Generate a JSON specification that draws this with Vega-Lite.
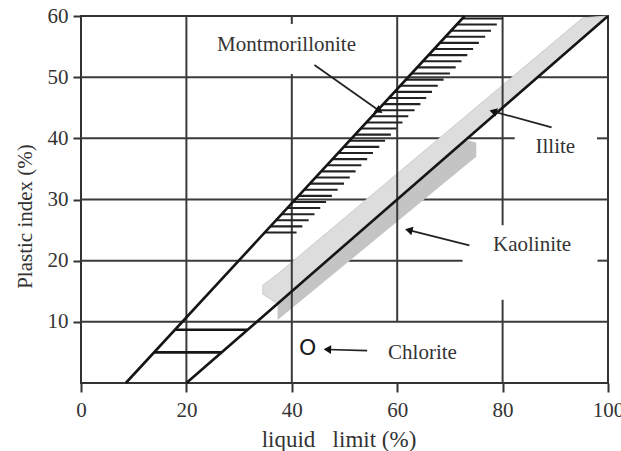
{
  "$schema": "https://vega.github.io/schema/vega-lite/v6.json",
  "width": 527,
  "height": 367,
  "autosize": {"type": "none"},
  "padding": {"left": 81, "top": 16, "right": 13, "bottom": 68},
  "config": {"view": {"stroke": "#333", "strokeWidth": 2}, "font": "Liberation Serif"},
  "datasets": {
    "hgrid": [
      {"x": 0, "x2": 100, "y": 10, "y2": 10},
      {"x": 0, "x2": 72.4, "y": 20, "y2": 20},
      {"x": 98, "x2": 100, "y": 20, "y2": 20},
      {"x": 0, "x2": 100, "y": 30, "y2": 30},
      {"x": 0, "x2": 82.3, "y": 40, "y2": 40},
      {"x": 97.9, "x2": 100, "y": 40, "y2": 40},
      {"x": 0, "x2": 100, "y": 50, "y2": 50}
    ],
    "vgrid": [
      {"x": 20, "x2": 20, "y": 0, "y2": 60},
      {"x": 40, "x2": 40, "y": 0, "y2": 50.5},
      {"x": 40, "x2": 40, "y": 58.7, "y2": 60},
      {"x": 60, "x2": 60, "y": 10, "y2": 60},
      {"x": 80, "x2": 80, "y": 25.8, "y2": 60},
      {"x": 80, "x2": 80, "y": 0, "y2": 13.6}
    ],
    "kaolinite": [
      {"x": 37.3, "y": 13.0, "y2": 10.3},
      {"x": 73.0, "y": 39.75, "y2": 35.6},
      {"x": 75.0, "y": 39.3, "y2": 37.0}
    ],
    "illite": [
      {"x": 34.5, "y": 16.0, "y2": 14.5},
      {"x": 37.3, "y": 17.8, "y2": 13.0},
      {"x": 95.2, "y": 59.7, "y2": 56.4},
      {"x": 100, "y": 60, "y2": 60}
    ],
    "lines": [
      {"x": 8.5, "y": 0, "x2": 72.8, "y2": 60},
      {"x": 20, "y": 0, "x2": 100, "y2": 60},
      {"x": 17.8, "y": 8.7, "x2": 31.6, "y2": 8.7},
      {"x": 13.9, "y": 5.0, "x2": 26.7, "y2": 5.0}
    ],
    "hatch": [
      {"y": 24.6, "x": 34.9, "x2": 40.9},
      {"y": 25.6, "x": 35.9, "x2": 42.0},
      {"y": 26.6, "x": 37.0, "x2": 43.2},
      {"y": 27.6, "x": 38.1, "x2": 44.3},
      {"y": 28.6, "x": 39.2, "x2": 45.4},
      {"y": 29.6, "x": 40.2, "x2": 46.5},
      {"y": 30.6, "x": 41.3, "x2": 47.6},
      {"y": 31.6, "x": 42.4, "x2": 48.7},
      {"y": 32.6, "x": 43.4, "x2": 49.9},
      {"y": 33.6, "x": 44.5, "x2": 51.0},
      {"y": 34.6, "x": 45.6, "x2": 52.1},
      {"y": 35.6, "x": 46.7, "x2": 53.2},
      {"y": 36.6, "x": 47.7, "x2": 54.3},
      {"y": 37.6, "x": 48.8, "x2": 55.4},
      {"y": 38.6, "x": 49.9, "x2": 56.6},
      {"y": 39.6, "x": 50.9, "x2": 57.7},
      {"y": 40.6, "x": 52.0, "x2": 58.8},
      {"y": 41.6, "x": 53.1, "x2": 59.9},
      {"y": 42.6, "x": 54.2, "x2": 61.0},
      {"y": 43.6, "x": 55.2, "x2": 62.1},
      {"y": 44.6, "x": 56.3, "x2": 63.3},
      {"y": 45.6, "x": 57.4, "x2": 64.4},
      {"y": 46.6, "x": 58.5, "x2": 65.5},
      {"y": 47.6, "x": 59.5, "x2": 66.6},
      {"y": 48.6, "x": 60.6, "x2": 67.7},
      {"y": 49.6, "x": 61.7, "x2": 68.8},
      {"y": 50.6, "x": 62.7, "x2": 70.0},
      {"y": 51.6, "x": 63.8, "x2": 71.1},
      {"y": 52.6, "x": 64.9, "x2": 72.2},
      {"y": 53.6, "x": 66.0, "x2": 73.3},
      {"y": 54.6, "x": 67.0, "x2": 74.4},
      {"y": 55.6, "x": 68.1, "x2": 75.5},
      {"y": 56.6, "x": 69.2, "x2": 76.7},
      {"y": 57.6, "x": 70.2, "x2": 77.8},
      {"y": 58.6, "x": 71.3, "x2": 78.9},
      {"y": 59.6, "x": 72.4, "x2": 80.0}
    ],
    "arrows": [
      {"name": "Montmorillonite", "x": 44.3, "y": 52.0, "x2": 56.6, "y2": 44.5},
      {"name": "Illite", "x": 89.3, "y": 41.8, "x2": 78.2, "y2": 44.4},
      {"name": "Kaolinite", "x": 73.7, "y": 22.5, "x2": 62.2, "y2": 25.0},
      {"name": "Chlorite", "x": 54.3, "y": 5.3, "x2": 46.75, "y2": 5.48}
    ],
    "arrowheads": [
      {"name": "Montmorillonite", "x": 56.6, "y": 44.5},
      {"name": "Illite", "x": 78.2, "y": 44.4},
      {"name": "Kaolinite", "x": 62.2, "y": 25.0},
      {"name": "Chlorite", "x": 46.75, "y": 5.48}
    ],
    "labels": [
      {"label": "Montmorillonite", "x": 39.0, "y": 55.2},
      {"label": "Illite", "x": 90.0, "y": 38.6},
      {"label": "Kaolinite", "x": 85.6, "y": 22.5},
      {"label": "Chlorite", "x": 64.8, "y": 4.9}
    ],
    "chlorite_point": [
      {"name": "Chlorite", "x": 43.0, "y": 5.7}
    ]
  },
  "layer": [
    {
      "data": {"name": "hgrid"},
      "mark": {"type": "rule", "color": "#3a3a3a", "strokeWidth": 2},
      "encoding": {
        "x": {
          "field": "x", "type": "quantitative",
          "scale": {"domain": [0, 100], "nice": false, "zero": false},
          "axis": {
            "values": [0, 20, 40, 60, 80, 100],
            "title": "liquid\u00a0\u00a0\u00a0limit (%)",
            "domain": false, "grid": false, "ticks": true,
            "tickSize": 9, "tickWidth": 2, "tickColor": "#333",
            "labelFont": "Liberation Serif", "labelFontSize": 21, "labelColor": "#333",
            "labelPadding": 7, "labelFlush": false, "labelOverlap": false,
            "titleFont": "Liberation Serif", "titleFontSize": 23, "titleFontWeight": "normal",
            "titleColor": "#333", "titlePadding": 8, "titleX": 257.5
          }
        },
        "y": {
          "field": "y", "type": "quantitative",
          "scale": {"domain": [0, 60], "nice": false, "zero": false},
          "axis": {
            "values": [10, 20, 30, 40, 50, 60],
            "title": "Plastic index (%)",
            "domain": false, "grid": false, "ticks": true,
            "tickSize": 8, "tickWidth": 2, "tickColor": "#333",
            "labelFont": "Liberation Serif", "labelFontSize": 21, "labelColor": "#333",
            "labelPadding": 5, "labelFlush": false, "labelOverlap": false,
            "titleFont": "Liberation Serif", "titleFontSize": 21, "titleFontWeight": "normal",
            "titleColor": "#333", "titlePadding": 12, "titleY": 200
          }
        },
        "x2": {"field": "x2"},
        "y2": {"field": "y2"}
      }
    },
    {
      "data": {"name": "illite"},
      "mark": {"type": "area", "orient": "vertical", "color": "#dddddd", "stroke": "#cccccc", "strokeWidth": 1},
      "encoding": {
        "x": {"field": "x", "type": "quantitative"},
        "y": {"field": "y", "type": "quantitative"},
        "y2": {"field": "y2"}
      }
    },
    {
      "data": {"name": "kaolinite"},
      "mark": {"type": "area", "orient": "vertical", "color": "#c4c4c4"},
      "encoding": {
        "x": {"field": "x", "type": "quantitative"},
        "y": {"field": "y", "type": "quantitative"},
        "y2": {"field": "y2"}
      }
    },
    {
      "data": {"name": "vgrid"},
      "mark": {"type": "rule", "color": "#3a3a3a", "strokeWidth": 2},
      "encoding": {
        "x": {"field": "x", "type": "quantitative"},
        "y": {"field": "y", "type": "quantitative"},
        "x2": {"field": "x2"},
        "y2": {"field": "y2"}
      }
    },
    {
      "data": {"name": "hatch"},
      "mark": {"type": "rule", "color": "#222", "strokeWidth": 2.1},
      "encoding": {
        "x": {"field": "x", "type": "quantitative"},
        "y": {"field": "y", "type": "quantitative"},
        "x2": {"field": "x2"}
      }
    },
    {
      "data": {"name": "lines"},
      "mark": {"type": "rule", "color": "#151515", "strokeWidth": 2.6},
      "encoding": {
        "x": {"field": "x", "type": "quantitative"},
        "y": {"field": "y", "type": "quantitative"},
        "x2": {"field": "x2"},
        "y2": {"field": "y2"}
      }
    },
    {
      "data": {"name": "arrows"},
      "mark": {"type": "rule", "color": "#222", "strokeWidth": 1.7},
      "encoding": {
        "x": {"field": "x", "type": "quantitative"},
        "y": {"field": "y", "type": "quantitative"},
        "x2": {"field": "x2"},
        "y2": {"field": "y2"}
      }
    },
    {
      "data": {"name": "arrowheads"},
      "transform": [{"filter": "datum.name == 'Montmorillonite'"}],
      "mark": {"type": "point", "shape": "triangle-right", "filled": true, "color": "#111", "size": 75, "angle": 35, "opacity": 1},
      "encoding": {"x": {"field": "x", "type": "quantitative"}, "y": {"field": "y", "type": "quantitative"}}
    },
    {
      "data": {"name": "arrowheads"},
      "transform": [{"filter": "datum.name == 'Illite'"}],
      "mark": {"type": "point", "shape": "triangle-right", "filled": true, "color": "#111", "size": 75, "angle": 196, "opacity": 1},
      "encoding": {"x": {"field": "x", "type": "quantitative"}, "y": {"field": "y", "type": "quantitative"}}
    },
    {
      "data": {"name": "arrowheads"},
      "transform": [{"filter": "datum.name == 'Kaolinite'"}],
      "mark": {"type": "point", "shape": "triangle-right", "filled": true, "color": "#111", "size": 75, "angle": 194, "opacity": 1},
      "encoding": {"x": {"field": "x", "type": "quantitative"}, "y": {"field": "y", "type": "quantitative"}}
    },
    {
      "data": {"name": "arrowheads"},
      "transform": [{"filter": "datum.name == 'Chlorite'"}],
      "mark": {"type": "point", "shape": "triangle-right", "filled": true, "color": "#111", "size": 75, "angle": 182, "opacity": 1},
      "encoding": {"x": {"field": "x", "type": "quantitative"}, "y": {"field": "y", "type": "quantitative"}}
    },
    {
      "data": {"name": "labels"},
      "mark": {"type": "text", "font": "Liberation Serif", "fontSize": 21, "color": "#333", "align": "center", "baseline": "middle"},
      "encoding": {"x": {"field": "x", "type": "quantitative"}, "y": {"field": "y", "type": "quantitative"}, "text": {"field": "label"}}
    },
    {
      "data": {"name": "chlorite_point"},
      "mark": {"type": "text", "text": "O", "font": "DejaVu Sans", "fontSize": 22, "color": "#1a1a1a", "align": "center", "baseline": "middle"},
      "encoding": {"x": {"field": "x", "type": "quantitative"}, "y": {"field": "y", "type": "quantitative"}}
    }
  ]
}
